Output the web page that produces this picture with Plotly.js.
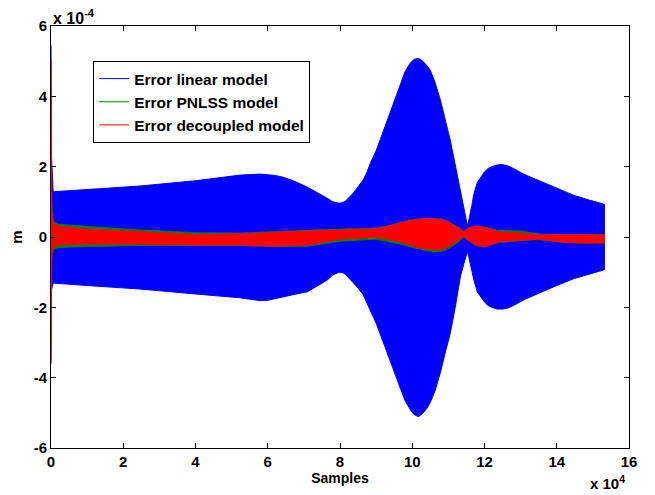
<!DOCTYPE html>
<html>
<head>
<meta charset="utf-8">
<script src="https://cdn.plot.ly/plotly-3.0.1.min.js"></script>
<style>html,body{margin:0;padding:0;background:#fff}#chart{width:655px;height:495px}</style>
</head>
<body>
<div id="chart"></div>
<script>
// Envelope of the dense oscillating error signals (units: 1e-4 m), sample positions
const linearX     = [0, 150, 600, 1000, 10000, 24700, 40000, 52400, 57900, 60000, 62000, 64300, 67500, 70900, 73600, 76500, 78000, 79800, 80800, 81500, 83700, 85000, 86400, 87500, 88400, 90000, 91100, 92500, 93900, 95300, 96700, 98000, 99400, 100500, 101700, 102900, 104000, 105000, 106300, 107800, 109100, 110500, 111900, 113300, 114300, 115300, 116500, 117000, 118000, 119000, 120000, 121000, 122000, 123500, 125000, 126500, 128000, 131000, 136000, 140000, 144600, 149000, 153200];
const linearUpper = [5.46, 2.3, 1.3, 1.29, 1.35, 1.45, 1.6, 1.76, 1.79, 1.78, 1.75, 1.7, 1.58, 1.42, 1.27, 1.1, 1.0, 0.96, 0.98, 1.02, 1.25, 1.42, 1.62, 1.85, 2.1, 2.45, 2.76, 3.15, 3.55, 3.95, 4.37, 4.7, 4.94, 5.05, 5.08, 5.0, 4.88, 4.74, 4.4, 3.89, 3.35, 2.76, 2.05, 1.34, 0.85, 0.3, 0.9, 1.2, 1.55, 1.72, 1.85, 1.95, 2.0, 2.05, 2.06, 2.02, 1.95, 1.78, 1.56, 1.38, 1.19, 1.05, 0.93];
const linearLower = [-3.6, -1.5, -1.31, -1.31, -1.38, -1.48, -1.62, -1.73, -1.81, -1.8, -1.76, -1.7, -1.63, -1.56, -1.4, -1.22, -1.08, -1.0, -1.02, -1.06, -1.31, -1.45, -1.64, -1.85, -2.07, -2.45, -2.75, -3.12, -3.5, -3.9, -4.3, -4.65, -4.9, -5.05, -5.11, -5.02, -4.88, -4.7, -4.38, -3.85, -3.3, -2.75, -2.0, -1.14, -0.75, -0.4, -0.95, -1.2, -1.56, -1.72, -1.85, -1.95, -2.0, -2.05, -2.05, -2.02, -1.95, -1.78, -1.56, -1.38, -1.19, -1.05, -0.93];

const nlX        = [0, 200, 600, 2000, 10000, 24700, 40000, 52000, 62000, 71000, 80000, 90000, 93000, 96700, 99500, 102000, 104500, 107000, 109000, 110500, 112000, 113300, 114200, 115500, 117500, 120000, 124000, 130000, 135000, 141000, 146500, 153200];
const pnlssUpper = [4.0, 1.0, 0.45, 0.36, 0.3, 0.2, 0.12, 0.11, 0.15, 0.19, 0.22, 0.25, 0.31, 0.41, 0.48, 0.51, 0.53, 0.52, 0.48, 0.41, 0.33, 0.24, 0.15, 0.26, 0.31, 0.28, 0.18, 0.17, 0.08, 0.07, 0.06, 0.06];
const pnlssLower = [-3.0, -0.6, -0.36, -0.3, -0.27, -0.24, -0.24, -0.24, -0.27, -0.26, -0.12, -0.06, -0.12, -0.2, -0.28, -0.35, -0.4, -0.42, -0.38, -0.3, -0.2, -0.1, 0.0, -0.1, -0.24, -0.28, -0.15, -0.1, -0.07, -0.14, -0.17, -0.17];
const decUpper   = [5.06, 0.8, 0.42, 0.3, 0.22, 0.15, 0.07, 0.09, 0.14, 0.17, 0.2, 0.23, 0.3, 0.4, 0.47, 0.51, 0.53, 0.51, 0.47, 0.4, 0.32, 0.23, 0.14, 0.26, 0.31, 0.28, 0.14, 0.11, 0.06, 0.06, 0.06, 0.06];
const decLower   = [-3.5, -0.5, -0.3, -0.22, -0.2, -0.2, -0.23, -0.23, -0.26, -0.23, -0.06, 0.0, -0.06, -0.14, -0.23, -0.31, -0.35, -0.37, -0.33, -0.23, -0.14, -0.06, 0.03, -0.09, -0.23, -0.28, -0.14, -0.09, -0.06, -0.14, -0.17, -0.17];

const seriesNames = ['Error linear model', 'Error PNLSS model', 'Error decoupled model'];
const seriesColors = ['#0000ff', '#008000', '#ff0000'];

const xTickVals = [0, 20000, 40000, 60000, 80000, 100000, 120000, 140000, 160000];
const xTickText = ['0', '2', '4', '6', '8', '10', '12', '14', '16'];
const yTickVals = [-6, -4, -2, 0, 2, 4, 6];
const yTickText = ['-6', '-4', '-2', '0', '2', '4', '6'];

function band(x, up, lo, color) {
  return {
    x: x.concat(x.slice().reverse()),
    y: up.concat(lo.slice().reverse()),
    type: 'scatter', mode: 'lines', fill: 'toself',
    fillcolor: color, line: {color: color, width: 1},
    showlegend: false, hoverinfo: 'skip'
  };
}
function legendEntry(name, color) {
  return {x: [null], y: [null], type: 'scatter', mode: 'lines', name: name,
          line: {color: color, width: 1}};
}

const traces = [
  band(linearX, linearUpper, linearLower, seriesColors[0]),
  band(nlX, pnlssUpper, pnlssLower, seriesColors[1]),
  band(nlX, decUpper, decLower, seriesColors[2]),
  legendEntry(seriesNames[0], seriesColors[0]),
  legendEntry(seriesNames[1], seriesColors[1]),
  legendEntry(seriesNames[2], seriesColors[2])
];

const F = 'Liberation Sans, Arial, sans-serif';
const layout = {
  width: 655, height: 495,
  margin: {l: 51, r: 26, t: 26, b: 47},
  paper_bgcolor: '#fff', plot_bgcolor: '#fff',
  font: {family: F, size: 15, color: '#000', weight: 'bold'},
  xaxis: {
    range: [0, 160000], tickvals: xTickVals, ticktext: xTickText,
    ticks: 'inside', ticklen: 5, tickcolor: '#000', showline: true, linecolor: '#000', linewidth: 1,
    mirror: 'ticks', showgrid: false, zeroline: false,
    tickfont: {family: F, size: 15, weight: 'bold'},
    title: {text: 'Samples', font: {family: F, size: 14, weight: 'bold'}, standoff: 3}
  },
  yaxis: {
    range: [-6, 6], tickvals: yTickVals, ticktext: yTickText,
    ticks: 'inside', ticklen: 5, tickcolor: '#000', showline: true, linecolor: '#000', linewidth: 1,
    mirror: 'ticks', showgrid: false, zeroline: false,
    tickfont: {family: F, size: 15, weight: 'bold'},
    title: {text: 'm', font: {family: F, size: 15, weight: 'bold'}, standoff: 7}
  },
  legend: {
    x: 0.073, y: 0.917, xanchor: 'left', yanchor: 'top',
    bgcolor: '#fff', bordercolor: '#000', borderwidth: 1,
    font: {family: F, size: 15.5, weight: 'bold'}, itemwidth: 30
  },
  annotations: [
    {xref: 'paper', yref: 'paper', x: 0, y: 1, xanchor: 'left', yanchor: 'bottom', showarrow: false,
     text: 'x 10<sup>-4</sup>', font: {family: F, size: 16, weight: 'bold'}, yshift: -3},
    {xref: 'paper', yref: 'paper', x: 1, y: 0, xanchor: 'right', yanchor: 'bottom', showarrow: false,
     text: 'x 10<sup>4</sup>', font: {family: F, size: 15, weight: 'bold'}, yshift: -46, xshift: -2}
  ]
};

Plotly.newPlot('chart', traces, layout, {displayModeBar: false, staticPlot: true});
</script>
</body>
</html>
